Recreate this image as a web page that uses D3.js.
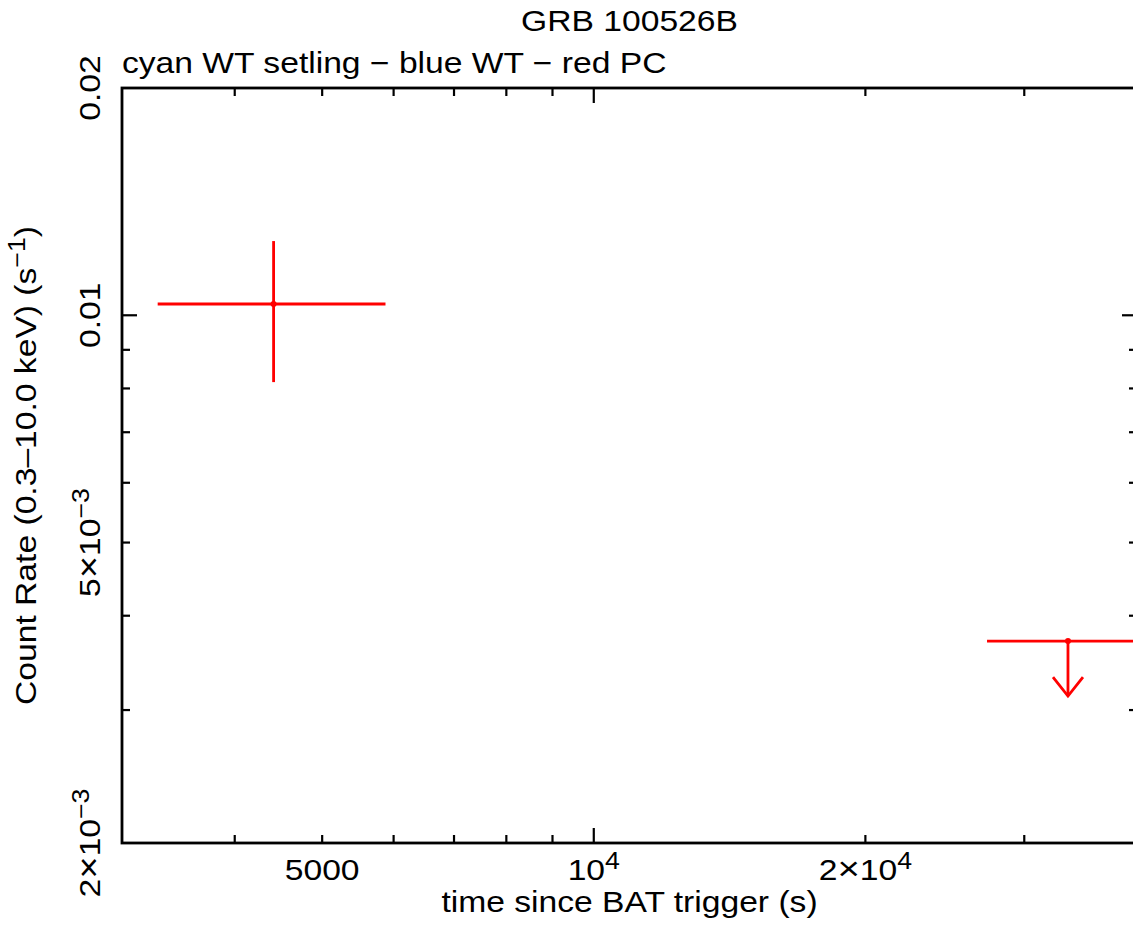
<!DOCTYPE html>
<html>
<head>
<meta charset="utf-8">
<script src="https://cdn.jsdelivr.net/npm/d3@7"></script>
<style>
  body { margin: 0; background: #fff; }
  svg { display: block; }
  text { font-family: "Liberation Sans", Arial, Helvetica, sans-serif; fill: #000; }
</style>
</head>
<body>
<script>
// light curve values (PC mode only)
var pcTime   = [4417];
var pcTimeLo = [3286];
var pcTimeHi = [5877];
var pcRate   = [0.01035];
var pcRateLo = [0.008156];
var pcRateHi = [0.01254];

// upper limits (PC)
var ulTime   = [33540];
var ulTimeLo = [27280];
var ulTimeHi = [41200];
var ulRate   = [0.003702];

// axes
var xDomain = [3000, 40000];
var yDomain = [0.002, 0.02];
var xLabelTicks = [5000, 10000, 20000];
var xMajorTicks = [10000];
var yLabelTicks = [0.002, 0.005, 0.01, 0.02];
var yMajorTicks = [0.01];

var W = 1133, H = 932;
var margin = {left: 122, right: -4, top: 88, bottom: 89};
var stretch = 1.16;   // glyphs in the reference are wider than Arial

var svg = d3.select("body").append("svg")
    .attr("width", W)
    .attr("height", H);

var x = d3.scaleLog().domain(xDomain).range([margin.left, W - margin.right]);
var y = d3.scaleLog().domain(yDomain).range([H - margin.bottom, margin.top]);

// all log ticks inside the domain
function logTicks(dom) {
    var out = [];
    for (var e = Math.floor(Math.log10(dom[0])); e <= Math.ceil(Math.log10(dom[1])); e++) {
        for (var m = 1; m < 10; m++) {
            var v = m * Math.pow(10, e);
            if (v > dom[0] * 1.0001 && v < dom[1] * 0.9999) out.push(v);
        }
    }
    return out;
}

function isIn(arr, v) {
    return arr.some(function(a) { return Math.abs(a - v) / v < 1e-6; });
}

// text helper: parts = [[string, kind], ...]  kind: 0 normal, 1 superscript, 2 times sign
function label(x0, y0, rot, anchor, parts, size) {
    var t = svg.append("text")
        .attr("transform", "translate(" + x0 + "," + y0 + ") rotate(" + rot + ") scale(" + stretch + ",1)")
        .attr("text-anchor", anchor)
        .style("font-size", size + "px");
    var raised = false;
    parts.forEach(function(p) {
        var ts = t.append("tspan").text(p[0]);
        if (p[1] === 1) {
            ts.style("font-size", Math.round(size * 0.78) + "px").attr("dy", -11);
            raised = true;
        } else {
            if (p[1] === 2) ts.style("font-size", Math.round(size * 1.15) + "px");
            if (raised) { ts.attr("dy", 11); raised = false; }
        }
    });
    return t;
}

function sciParts(v) {
    var e = Math.floor(Math.log10(v) + 1e-9);
    var m = Math.round(v / Math.pow(10, e));
    if (v >= 0.01 && v < 1000) return [[String(+v.toPrecision(3)), 0]];
    if (v >= 1000 && v < 10000) return [[String(v), 0]];
    var ex = (e < 0 ? "\u2212" + (-e) : String(e));
    if (m === 1) return [["10", 0], [ex, 1]];
    return [[String(m), 0], ["\u00d7", 2], ["10", 0], [ex, 1]];
}

var x0 = x.range()[0], x1 = x.range()[1];
var y0 = y.range()[0], y1 = y.range()[1];

// frame
svg.append("rect")
    .attr("x", x0).attr("y", y1)
    .attr("width", x1 - x0).attr("height", y0 - y1)
    .attr("fill", "none")
    .attr("stroke", "#000")
    .attr("stroke-width", 2.8);

// x ticks, bottom and top
var xt = logTicks(xDomain);
svg.append("g").selectAll("line").data(xt).enter().append("line")
    .attr("x1", function(d) { return x(d); })
    .attr("x2", function(d) { return x(d); })
    .attr("y1", y0)
    .attr("y2", function(d) { return y0 - (isIn(xMajorTicks, d) ? 15 : 8); })
    .attr("stroke", "#000").attr("stroke-width", 2.2);
svg.append("g").selectAll("line").data(xt).enter().append("line")
    .attr("x1", function(d) { return x(d); })
    .attr("x2", function(d) { return x(d); })
    .attr("y1", y1)
    .attr("y2", function(d) { return y1 + (isIn(xMajorTicks, d) ? 15 : 8); })
    .attr("stroke", "#000").attr("stroke-width", 2.2);

// y ticks, left and right
var yt = logTicks(yDomain);
svg.append("g").selectAll("line").data(yt).enter().append("line")
    .attr("y1", function(d) { return y(d); })
    .attr("y2", function(d) { return y(d); })
    .attr("x1", x0)
    .attr("x2", function(d) { return x0 + (isIn(yMajorTicks, d) ? 15 : 8); })
    .attr("stroke", "#000").attr("stroke-width", 2.2);
svg.append("g").selectAll("line").data(yt).enter().append("line")
    .attr("y1", function(d) { return y(d); })
    .attr("y2", function(d) { return y(d); })
    .attr("x1", x1)
    .attr("x2", function(d) { return x1 - (isIn(yMajorTicks, d) ? 15 : 8); })
    .attr("stroke", "#000").attr("stroke-width", 2.2);

// tick labels
xLabelTicks.forEach(function(v) {
    label(x(v), 880, 0, "middle", sciParts(v), 29);
});
yLabelTicks.forEach(function(v) {
    label(100, y(v), -90, "middle", sciParts(v), 29);
});

// titles
label((x0 + x1) / 2, 31, 0, "middle", [["GRB 100526B", 0]], 29);
label(x0, 73, 0, "start", [["cyan WT setling \u2212 blue WT \u2212 red PC", 0]], 29);
label((x0 + x1) / 2, 912, 0, "middle", [["time since BAT trigger (s)", 0]], 29);
label(36, (y0 + y1) / 2, -90, "middle",
      [["Count Rate (0.3\u201310.0 keV) (s", 0], ["\u22121", 1], [")", 0]], 29);

// data
svg.append("clipPath").attr("id", "plotclip")
    .append("rect").attr("x", x0).attr("y", y1).attr("width", x1 - x0).attr("height", y0 - y1);
var plot = svg.append("g").attr("clip-path", "url(#plotclip)");
var red = "#ff0000";
var lw = 2.8;

pcTime.forEach(function(t, i) {
    plot.append("line")
        .attr("x1", x(pcTimeLo[i])).attr("x2", x(pcTimeHi[i]))
        .attr("y1", y(pcRate[i])).attr("y2", y(pcRate[i]))
        .attr("stroke", red).attr("stroke-width", lw);
    plot.append("line")
        .attr("x1", x(t)).attr("x2", x(t))
        .attr("y1", y(pcRateLo[i])).attr("y2", y(pcRateHi[i]))
        .attr("stroke", red).attr("stroke-width", lw);
    plot.append("circle")
        .attr("cx", x(t)).attr("cy", y(pcRate[i])).attr("r", 3)
        .attr("fill", red);
});

ulTime.forEach(function(t, i) {
    var cx = x(t), cy = y(ulRate[i]);
    plot.append("line")
        .attr("x1", x(ulTimeLo[i])).attr("x2", x(ulTimeHi[i]))
        .attr("y1", cy).attr("y2", cy)
        .attr("stroke", red).attr("stroke-width", lw);
    plot.append("line")
        .attr("x1", cx).attr("x2", cx)
        .attr("y1", cy).attr("y2", cy + 55)
        .attr("stroke", red).attr("stroke-width", lw);
    plot.append("path")
        .attr("d", "M" + (cx - 15) + "," + (cy + 36) + "L" + cx + "," + (cy + 55) + "L" + (cx + 15) + "," + (cy + 36))
        .attr("fill", "none").attr("stroke", red).attr("stroke-width", lw);
    plot.append("circle")
        .attr("cx", cx).attr("cy", cy).attr("r", 3)
        .attr("fill", red);
});
</script>
</body>
</html>
